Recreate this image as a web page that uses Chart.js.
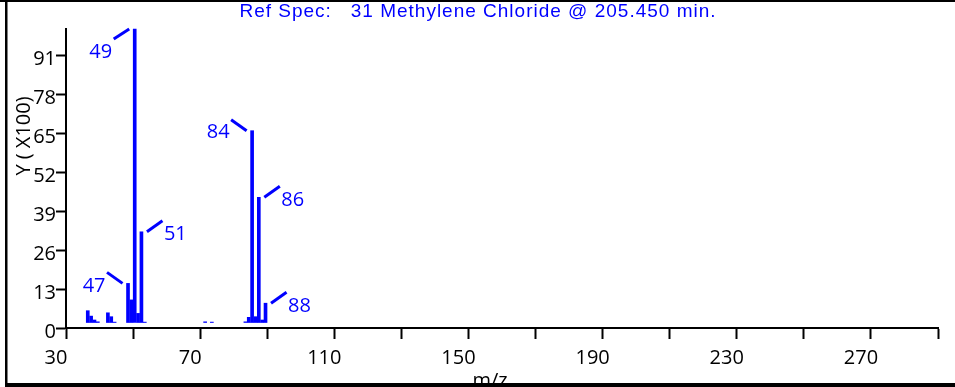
<!DOCTYPE html>
<html>
<head>
<meta charset="utf-8">
<script src="https://cdn.jsdelivr.net/npm/chart.js@4.4.1/dist/chart.umd.min.js"></script>
<style>
    html, body { margin: 0; padding: 0; background: #fff; }
    #espectro { display: block; }
</style>
</head>
<body>
<canvas id="espectro" width="955" height="387"></canvas>
<script>
// ============================================
// ESPECTRO DE REFERÊNCIA - METHYLENE CHLORIDE
// ============================================

const titulo = 'Ref Spec:   31 Methylene Chloride @ 205.450 min.';
const tituloEixoY = 'Y ( X100)';
const tituloEixoX = 'm/z';

// m/z e intensidade (X100)
const massas = [35, 36, 37, 38, 41, 42, 43, 47, 48, 49, 50, 51, 52, 70, 72, 82, 83, 84, 85, 86, 87, 88];
const intensidades = [4.1, 2.3, 1.0, 0.4, 3.4, 2.1, 0.3, 13.2, 7.7, 98.0, 3.2, 30.4, 0.3, 0.4, 0.3, 0.4, 1.9, 64.1, 2.1, 41.9, 1.0, 6.6];

// Picos com rótulo
const picosRotulados = [47, 49, 51, 84, 86, 88];

// Marcas dos eixos
const ticksX = [30, 50, 70, 90, 110, 130, 150, 170, 190, 210, 230, 250, 270, 290];
const rotulosX = [30, 70, 110, 150, 190, 230, 270];
const ticksY = [0, 13, 26, 39, 52, 65, 78, 91];

// Estilo
const azul = '#0000ff';
const fonte = '"Open Sans", "Noto Sans", sans-serif';
// o programa original desenha as barras um pouco deslocadas do eixo
const deslocamento = { x: 5, y: -5 };

// Posição de cada rótulo em relação ao topo da barra (lado: -1 esquerda, 1 direita)
const estiloRotulo = {
    47: { lado: -1, linhaDy: -11, textoDy: 3 },
    49: { lado: -1, linhaDy: 10, textoDy: 23 },
    51: { lado: 1, linhaDy: -11, textoDy: 2.5 },
    84: { lado: -1, linhaDy: -11, textoDy: 1.5 },
    86: { lado: 1, linhaDy: -11, textoDy: 3 },
    88: { lado: 1, linhaDy: -11, textoDy: 3 }
};

// Plugin: desloca as barras, desenha rótulos, títulos e moldura
const pluginDesenho = {
    id: 'desenho',
    beforeDatasetsDraw(chart) {
        chart.ctx.save();
        chart.ctx.translate(deslocamento.x, deslocamento.y);
    },
    afterDatasetsDraw(chart) {
        chart.ctx.restore();
    },
    afterDraw(chart) {
        const ctx = chart.ctx;
        const meta = chart.getDatasetMeta(0);

        // Rótulos dos picos
        ctx.save();
        ctx.strokeStyle = azul;
        ctx.fillStyle = azul;
        ctx.lineWidth = 3;
        ctx.font = '20px ' + fonte;
        ctx.textBaseline = 'middle';
        picosRotulados.forEach(mz => {
            const i = massas.indexOf(mz);
            const barra = meta.data[i];
            const bx = barra.x + deslocamento.x;
            const by = barra.y + deslocamento.y;
            const est = estiloRotulo[mz];

            ctx.beginPath();
            ctx.moveTo(bx + est.lado * 5.5, by);
            ctx.lineTo(bx + est.lado * 21, by + est.linhaDy);
            ctx.stroke();

            ctx.textAlign = est.lado < 0 ? 'right' : 'left';
            ctx.fillText(String(mz), bx + est.lado * 22.5, by + est.textoDy);
        });
        ctx.restore();

        // Título
        ctx.save();
        ctx.fillStyle = azul;
        ctx.font = '19px "Liberation Sans", Arial, sans-serif';
        ctx.letterSpacing = '1px';
        ctx.textAlign = 'center';
        ctx.textBaseline = 'middle';
        ctx.fillText(titulo, 478, 12);
        ctx.restore();

        // Título do eixo Y
        ctx.save();
        ctx.fillStyle = '#000';
        ctx.font = '20px ' + fonte;
        ctx.translate(24, 136);
        ctx.rotate(-Math.PI / 2);
        ctx.textAlign = 'center';
        ctx.textBaseline = 'middle';
        ctx.fillText(tituloEixoY, 0, 0);
        ctx.restore();

        // Título do eixo X (cortado pela moldura)
        ctx.save();
        ctx.fillStyle = '#000';
        ctx.font = '20px ' + fonte;
        ctx.textAlign = 'center';
        ctx.textBaseline = 'alphabetic';
        ctx.fillText(tituloEixoX, 490, 387);
        ctx.restore();

        // Moldura
        ctx.save();
        ctx.fillStyle = '#000';
        ctx.fillRect(0, 0, 955, 2);
        ctx.fillRect(5, 0, 2.5, 387);
        ctx.fillRect(5, 383, 950, 4);
        ctx.restore();
    }
};

const ctx = document.getElementById('espectro').getContext('2d');

new Chart(ctx, {
    type: 'bar',
    data: {
        datasets: [{
            data: massas.map((mz, i) => ({ x: mz, y: intensidades[i] })),
            backgroundColor: azul,
            borderWidth: 0,
            barThickness: 3
        }]
    },
    options: {
        responsive: false,
        animation: false,
        layout: {
            padding: { left: 0, top: 29, right: 17, bottom: 0 }
        },
        plugins: {
            legend: { display: false },
            tooltip: { enabled: false },
            title: { display: false }
        },
        scales: {
            x: {
                type: 'linear',
                min: 30,
                max: 290,
                offset: false,
                afterFit: (scale) => { scale.height = 59; },
                afterBuildTicks: (scale) => {
                    scale.ticks = ticksX.map(v => ({ value: v }));
                },
                ticks: {
                    autoSkip: false,
                    maxRotation: 0,
                    padding: 7,
                    labelOffset: -10,
                    color: '#000',
                    font: { family: fonte, size: 20 },
                    callback: (value) => rotulosX.includes(value) ? String(value) : ''
                },
                grid: {
                    offset: false,
                    drawOnChartArea: false,
                    drawTicks: true,
                    tickLength: 11,
                    tickWidth: 2,
                    tickColor: '#000'
                },
                border: { display: true, color: '#000', width: 2 }
            },
            y: {
                min: 0,
                max: 99.67,
                afterFit: (scale) => { scale.width = 66; },
                afterBuildTicks: (scale) => {
                    scale.ticks = ticksY.map(v => ({ value: v }));
                },
                ticks: {
                    padding: 0,
                    labelOffset: 4,
                    color: '#000',
                    font: { family: fonte, size: 20 }
                },
                grid: {
                    drawOnChartArea: false,
                    drawTicks: true,
                    tickLength: 10,
                    tickWidth: 2,
                    tickColor: '#000'
                },
                border: { display: true, color: '#000', width: 2 }
            }
        }
    },
    plugins: [pluginDesenho]
});
</script>
</body>
</html>
